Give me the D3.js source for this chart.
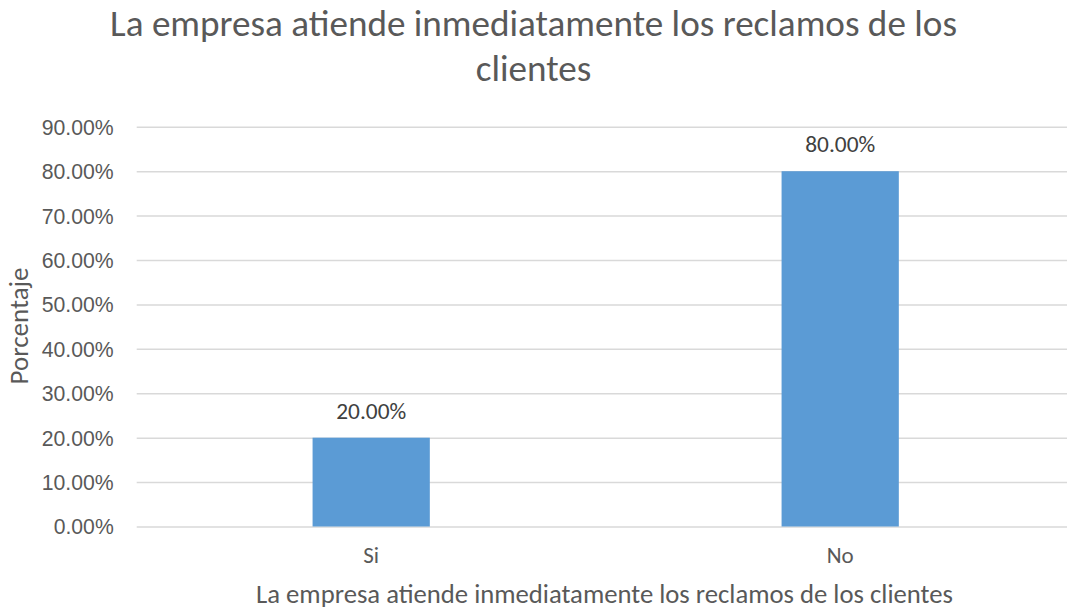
<!DOCTYPE html>
<html>
<head>
<meta charset="utf-8">
<script src="https://cdn.jsdelivr.net/npm/d3@7"></script>
<style>
  html, body { margin: 0; padding: 0; background: #fff; }
  svg { display: block; font-family: Carlito, Calibri, Lato, "Open Sans", sans-serif; }
</style>
</head>
<body>
<svg id="chart" width="1067" height="610"></svg>
<script>
// Survey answers and their share of respondents
const categories = ["Si", "No"];
const values = [0.20, 0.80];
const yTicks = [0, 0.1, 0.2, 0.3, 0.4, 0.5, 0.6, 0.7, 0.8, 0.9];
const titleLines = ["La empresa atiende inmediatamente los reclamos de los", "clientes"];
const xTitle = "La empresa atiende inmediatamente los reclamos de los clientes";
const yTitle = "Porcentaje";

const svg = d3.select("#chart");
const W = 1067, H = 610;
const plot = { left: 136.7, right: 1074.7, top: 126.8, bottom: 526.5 };

const fmt = d3.format(".2%");

const x = d3.scaleBand()
  .domain(categories)
  .range([plot.left, plot.right])
  .paddingInner(0.75)
  .paddingOuter(0.375);

const y = d3.scaleLinear()
  .domain([0, 0.9])
  .range([plot.bottom, plot.top]);

// Fit a text node to a given width by adjusting its font size
function fitWidth(sel, width) {
  const node = sel.node();
  const fs = parseFloat(sel.attr("font-size"));
  const w = node.getComputedTextLength();
  if (w > 0) sel.attr("font-size", (fs * width / w).toFixed(2));
  return sel;
}

// Gridlines and tick labels
const yAxis = d3.axisLeft(y)
  .tickValues(yTicks)
  .tickSize(-(W - plot.left))
  .tickPadding(23)
  .tickFormat(fmt);

const gy = svg.append("g")
  .attr("transform", `translate(${plot.left},0)`)
  .call(yAxis);
gy.select(".domain").remove();
gy.selectAll(".tick line").attr("stroke", "#d9d9d9").attr("stroke-width", 1.5);
gy.selectAll(".tick text")
  .attr("fill", "#595959")
  .attr("font-size", 19)
  .attr("dy", "0.35em");
gy.selectAll(".tick text").each(function() { fitWidth(d3.select(this), 72 * this.textContent.length / 6); });

// Bars
svg.append("g").selectAll("rect")
  .data(categories)
  .join("rect")
  .attr("x", d => x(d))
  .attr("width", x.bandwidth())
  .attr("y", (d, i) => y(values[i]))
  .attr("height", (d, i) => y(0) - y(values[i]))
  .attr("fill", "#5b9bd5");

// Value labels
svg.append("g").selectAll("text")
  .data(categories)
  .join("text")
  .attr("x", d => x(d) + x.bandwidth() / 2)
  .attr("y", (d, i) => y(values[i]) - 19)
  .attr("text-anchor", "middle")
  .attr("fill", "#404040")
  .attr("font-size", 19)
  .text((d, i) => fmt(values[i]))
  .each(function() { fitWidth(d3.select(this), 70); });

// Category labels
const catLabels = svg.append("g").selectAll("text")
  .data(categories)
  .join("text")
  .attr("x", d => x(d) + x.bandwidth() / 2)
  .attr("y", 563)
  .attr("text-anchor", "middle")
  .attr("fill", "#595959")
  .attr("font-size", 19)
  .text(d => d);
const noLabel = catLabels.filter(d => d === "No");
fitWidth(noLabel, 27);
catLabels.attr("font-size", noLabel.attr("font-size"));

// Axis titles
const xt = svg.append("text")
  .attr("x", (256 + 953) / 2)
  .attr("y", 603)
  .attr("text-anchor", "middle")
  .attr("fill", "#595959")
  .attr("font-size", 21)
  .text(xTitle);
fitWidth(xt, 697);

const yt = svg.append("text")
  .attr("transform", "translate(28,326) rotate(-90)")
  .attr("text-anchor", "middle")
  .attr("fill", "#595959")
  .attr("font-size", 21)
  .text(yTitle);
fitWidth(yt, 117);

// Chart title
const t1 = svg.append("text")
  .attr("x", (110 + 957) / 2)
  .attr("y", 36)
  .attr("text-anchor", "middle")
  .attr("fill", "#595959")
  .attr("font-size", 31)
  .text(titleLines[0]);
fitWidth(t1, 847);
svg.append("text")
  .attr("x", (110 + 957) / 2)
  .attr("y", 81)
  .attr("text-anchor", "middle")
  .attr("fill", "#595959")
  .attr("font-size", t1.attr("font-size"))
  .text(titleLines[1]);
</script>
</body>
</html>
